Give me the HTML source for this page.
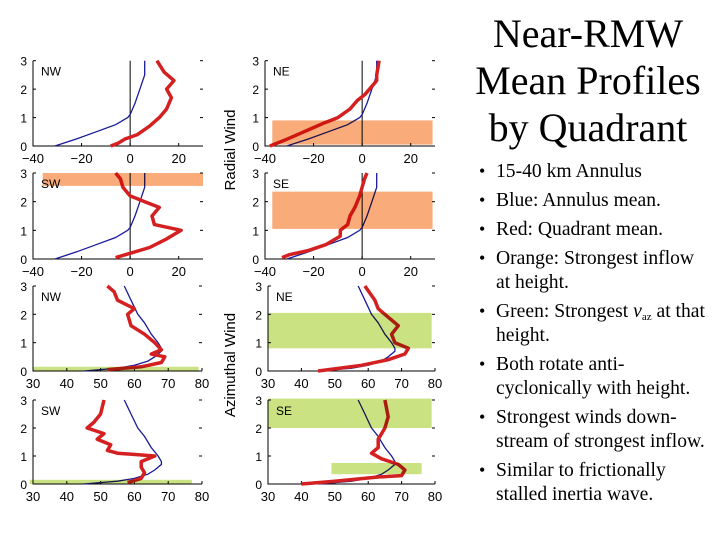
<!DOCTYPE html>
<html><head><meta charset="utf-8">
<style>
body{margin:0;background:#fff;}
#wrap{position:relative;width:720px;height:540px;overflow:hidden;background:#fff;}
.t{position:absolute;font-family:"Liberation Serif",serif;color:#000;white-space:nowrap;}
.title{font-size:40px;line-height:47px;text-align:center;left:460px;width:256px;top:10px;}
.bu{position:absolute;left:479px;font-family:"Liberation Serif",serif;font-size:18px;}
.tx{position:absolute;left:496px;font-family:"Liberation Serif",serif;font-size:19.6px;line-height:24px;white-space:nowrap;}
sub{font-size:11px;line-height:0;vertical-align:-3px;}
</style></head>
<body>
<div id="wrap">
<svg id="chart" width="720" height="540" style="position:absolute;left:0;top:0"></svg>
<div class="t title">Near-RMW<br>Mean Profiles<br>by Quadrant</div>
<div>
<span class="bu" style="top:161px">•</span><div class="tx" style="top:160px">15-40 km Annulus</div>
<span class="bu" style="top:190px">•</span><div class="tx" style="top:189px">Blue: Annulus mean.</div>
<span class="bu" style="top:219px">•</span><div class="tx" style="top:218px">Red: Quadrant mean.</div>
<span class="bu" style="top:248px">•</span><div class="tx" style="top:247px">Orange: Strongest inflow<br>at height.</div>
<span class="bu" style="top:301px">•</span><div class="tx" style="top:300px">Green: Strongest <i>v</i><sub>az</sub> at that<br>height.</div>
<span class="bu" style="top:354px">•</span><div class="tx" style="top:353px">Both rotate anti-<br>cyclonically with height.</div>
<span class="bu" style="top:407px">•</span><div class="tx" style="top:406px">Strongest winds down-<br>stream of strongest inflow.</div>
<span class="bu" style="top:460px">•</span><div class="tx" style="top:459px">Similar to frictionally<br>stalled inertia wave.</div>
</div>
</div>
<script>
// Radial wind data (height km, wind m/s)
const radBlueH=[0,0.25,0.5,0.75,1.0,1.1,1.5,2.0,2.5,3.0];
const radBlueV=[-31,-22,-14,-6,-1,0,2,4,6,6];
const radNWH=[0,0.1,0.25,0.4,0.7,1.0,1.3,1.7,2.0,2.3,2.6,3.0];
const radNWV=[-8,-5,-2,3,8,12,15,17,15,18,14,11];
const radNEH=[0,0.2,0.5,0.8,1.0,1.3,1.6,1.8,2.1,2.3,2.5,3.0];
const radNEV=[-38,-32,-24,-16,-10,-5,-2,1,4,6,6,7];
const radSWH=[0.05,0.2,0.4,0.7,1.0,1.2,1.5,1.8,2.0,2.1,2.2,2.5,2.8,3.0];
const radSWV=[-6,0,8,15,21,10,9,12,6,3,0,-3,-4,-6];
const radSEH=[0.05,0.15,0.3,0.5,0.8,1.0,1.2,1.5,1.8,2.2,2.5,2.8,3.0];
const radSEV=[-33,-30,-22,-15,-9,-9,-6,-5,-3,-1,0,1,2];
// Azimuthal wind data
const azBlueH=[0,0.1,0.2,0.35,0.5,0.7,0.8,1.0,1.3,1.7,2.0,2.5,3.0];
const azBlueV=[45,55,60,64,66,68,68,67,65,63,61,59,57];
const azNWH=[0.05,0.15,0.3,0.5,0.6,0.75,1.0,1.3,1.6,2.0,2.2,2.5,2.8,3.0];
const azNWV=[52,62,68,69,65,68,66,63,59,58,60,55,54,52];
const azNEH=[0,0.2,0.4,0.6,0.8,1.0,1.3,1.6,1.9,2.2,2.5,3.0];
const azNEV=[45,58,66,71,72,68,67,69,66,63,62,59];
const azSWH=[0.05,0.2,0.4,0.6,0.8,1.0,1.1,1.2,1.4,1.6,1.8,2.0,2.2,2.5,3.0];
const azSWV=[58,62,63,62,62,66,55,52,53,49,51,46,48,50,51];
const azSEH=[0,0.1,0.25,0.3,0.5,0.7,0.9,1.1,1.3,1.6,1.8,2.0,2.4,3.0];
const azSEV=[40,50,63,70,71,69,64,61,63,63,64,65,66,65];
const radTicks=[-40,-20,0,20];
const azTicks=[30,40,50,60,70,80];
const hTicks=[0,1,2,3];
// bands: [hLo,hHi,vLo,vHi]
const radBandNE=[0.05,0.9,-37,29];
const radBandSW=[2.55,3.0,-36,30];
const radBandSE=[1.05,2.35,-37,29];
const azBandNW=[0,0.15,30,79];
const azBandNE=[0.8,2.05,30,79];
const azBandSW=[0,0.15,29,77];
const azBandSE1=[2.0,3.05,30,79];
const azBandSE2=[0.35,0.75,49,76];

const svg=document.getElementById('chart');
const NS='http://www.w3.org/2000/svg';
function mk(tag,attrs,parent){const e=document.createElementNS(NS,tag);for(const k in attrs)e.setAttribute(k,attrs[k]);(parent||svg).appendChild(e);return e;}

function panel(name,x0,x1,yTop,yBot,vmin,vmax,ticks,blueH,blueV,redH,redV,bands,bandColor,label,zeroLine){
  const g=mk('g',{});
  
  
  const sx=v=>x0+(v-vmin)/(vmax-vmin)*(x1-x0);
  const sy=h=>yBot-h/3*(yBot-yTop);
  const ax=mk('path',{d:`M${x0},${yTop}V${yBot}H${x1}`,stroke:'#000','stroke-width':1,fill:'none'},g);
  
  
  hTicks.forEach(h=>{
    mk('line',{x1:x0,x2:x0+3,y1:sy(h),y2:sy(h),stroke:'#000'},g);
    mk('line',{x1:x1,x2:x1-3,y1:sy(h),y2:sy(h),stroke:'#000'},g);
    const t=mk('text',{x:x0-6,y:sy(h)+5,'text-anchor':'end','font-family':'Liberation Sans, sans-serif','font-size':12},g);
    t.textContent=h;
    
    
  });
  ticks.forEach(v=>{
    mk('line',{x1:sx(v),x2:sx(v),y1:yBot,y2:yBot-3,stroke:'#000'},g);
    const t=mk('text',{x:sx(v),y:yBot+17,'text-anchor':'middle','font-family':'Liberation Sans, sans-serif','font-size':13},g);
    t.textContent=v<0?'\u2212'+(-v):v;
    
    
  });
  if(zeroLine) mk('line',{x1:sx(0),x2:sx(0),y1:yTop,y2:yBot,stroke:'#000'},g);
  const lb=mk('text',{x:x0+8,y:yTop+15,'font-family':'Liberation Sans, sans-serif','font-size':12},g);
  lb.textContent=label;
  
  
  const pts=(H,V)=>H.map((h,i)=>sx(V[i]).toFixed(1)+','+sy(h).toFixed(1)).join(' ');
  const b=mk('polyline',{points:pts(blueH,blueV),stroke:'#1a1a9a','stroke-width':1.3,fill:'none'},g);
  
  
  const r=mk('polyline',{points:pts(redH,redV),stroke:'#d42020','stroke-width':3.5,fill:'none','stroke-linejoin':'round'},g);
  
  
  bands.forEach(bd=>{
    const rc=mk('rect',{x:sx(bd[2]),y:sy(bd[1]),width:sx(bd[3])-sx(bd[2]),height:sy(bd[0])-sy(bd[1]),fill:bandColor,style:'mix-blend-mode:multiply'},g);
    
    
  });
}
const OR='#f9ab7a', GR='#cbe283';
panel('radial-nw',33,203,60.7,146,-40,30,radTicks,radBlueH,radBlueV,radNWH,radNWV,[],OR,'NW',true);
panel('radial-ne',265,435,60.7,146,-40,30,radTicks,radBlueH,radBlueV,radNEH,radNEV,[radBandNE],OR,'NE',true);
panel('radial-sw',33,203,173,259,-40,30,radTicks,radBlueH,radBlueV,radSWH,radSWV,[radBandSW],OR,'SW',true);
panel('radial-se',265,435,173,259,-40,30,radTicks,radBlueH,radBlueV,radSEH,radSEV,[radBandSE],OR,'SE',true);
panel('azimuthal-nw',33,202,286,371,30,80,azTicks,azBlueH,azBlueV,azNWH,azNWV,[azBandNW],GR,'NW',false);
panel('azimuthal-ne',268,435,286,371,30,80,azTicks,azBlueH,azBlueV,azNEH,azNEV,[azBandNE],GR,'NE',false);
panel('azimuthal-sw',33,202,400,484,30,80,azTicks,azBlueH,azBlueV,azSWH,azSWV,[azBandSW],GR,'SW',false);
panel('azimuthal-se',268,435,400,484,30,80,azTicks,azBlueH,azBlueV,azSEH,azSEV,[azBandSE1,azBandSE2],GR,'SE',false);
const y1=mk('text',{x:0,y:0,transform:'translate(235,150) rotate(-90)','text-anchor':'middle','font-family':'Liberation Sans, sans-serif','font-size':15});
y1.textContent='Radial Wind';


const y2=mk('text',{x:0,y:0,transform:'translate(235,365) rotate(-90)','text-anchor':'middle','font-family':'Liberation Sans, sans-serif','font-size':15});
y2.textContent='Azimuthal Wind';


</script>
</body></html>
